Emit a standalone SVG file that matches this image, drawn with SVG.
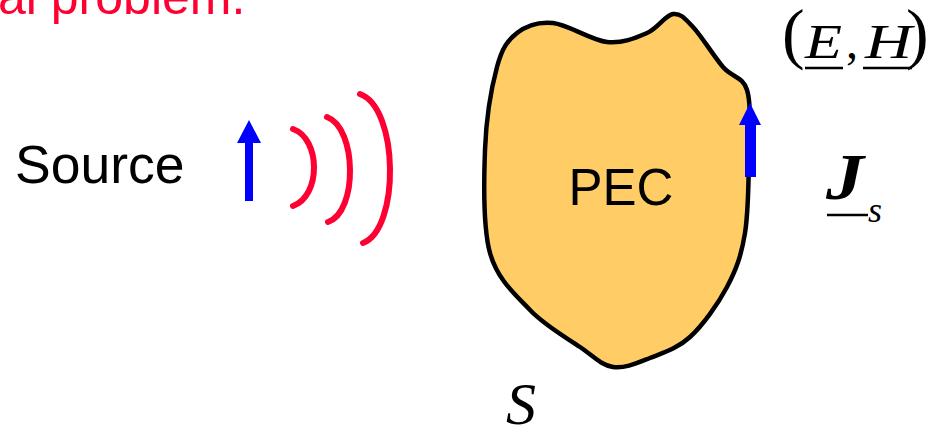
<svg xmlns="http://www.w3.org/2000/svg" width="932" height="433" viewBox="0 0 932 433">
<style>
.sans{font-family:"Liberation Sans",Arial,sans-serif;}
.serif{font-family:"Liberation Serif","Times New Roman",serif;}
.red{fill:#FF0033;}
.wave{fill:none;stroke:#FF0033;stroke-width:6;stroke-linecap:round;}
.blue{fill:#0000FF;}
.ul{stroke:#000;stroke-width:2.5;}
</style>
<rect width="932" height="433" fill="#fff"/>
<text class="sans red" x="-2" y="14" font-size="50">al problem.</text>
<g id="source">
<text class="sans" x="15" y="183" font-size="53.5">Source</text>
<polygon class="blue" points="245,201 253,201 253,143 261,143 249,120 237,143 245,143"/>
</g>
<g id="waves">
<path class="wave" d="M 293,129 C 321,139 321,196 293,206"/>
<path class="wave" d="M 327,117 C 357,128 358,212 328,222"/>
<path class="wave" d="M 360,94 C 399,108 400,229 363,243"/>
</g>
<g id="pec">
<path d="M 517,33 C 526.3,25.7 538,21.5 553,23 C 568,24.5 591.3,40.3 607,42 C 622.7,43.7 636,37.7 647,33 C 658,28.3 665.3,15 673,14 C 680.7,13 684.7,18.2 693,27 C 701.3,35.8 714,56.5 723,67 C 732,77.5 742.7,76.2 747,90 C 751.3,103.8 749.3,126.2 749,150 C 748.7,173.8 748.7,210.2 745,233 C 741.3,255.8 736.2,269.7 727,287 C 717.8,304.3 702.8,325.2 690,337 C 677.2,348.8 662.8,353 650,358 C 637.2,363 624.7,368.8 613,367 C 601.3,365.2 593.8,356.5 580,347 C 566.2,337.5 545,325.7 530,310 C 515,294.3 497.5,279.7 490,253 C 482.5,226.3 483.8,181 485,150 C 486.2,119 491.7,86.5 497,67 C 502.3,47.5 507.7,40.3 517,33 Z" fill="#FFCC66" stroke="#000" stroke-width="4.5"/>
<text class="sans" x="621" y="205" font-size="51" text-anchor="middle">PEC</text>
</g>
<g id="current">
<polygon class="blue" points="745,177 756,177 756,125 761,125 750,103 739,125 745,125"/>
<text class="serif" x="826" y="199" font-size="66" font-weight="bold" font-style="italic" textLength="38" lengthAdjust="spacingAndGlyphs">J</text>
<text class="serif" x="868" y="222" font-size="36" font-style="italic">s</text>
<line class="ul" x1="827" y1="215" x2="868" y2="215"/>
</g>
<g id="fields">
<text class="serif" x="782" y="56" font-size="68">(</text>
<text class="serif" x="805" y="58" font-size="48" font-style="italic" textLength="37" lengthAdjust="spacingAndGlyphs">E</text>
<text class="serif" x="846" y="58" font-size="48">,</text>
<text class="serif" x="865" y="58" font-size="48" font-style="italic" textLength="47" lengthAdjust="spacingAndGlyphs">H</text>
<text class="serif" x="906" y="56" font-size="68">)</text>
<line class="ul" x1="805" y1="68" x2="843" y2="68"/>
<line class="ul" x1="863" y1="68" x2="912" y2="68"/>
</g>
<g id="surface">
<text class="serif" x="506" y="424" font-size="60" font-style="italic">S</text>
</g>
</svg>
